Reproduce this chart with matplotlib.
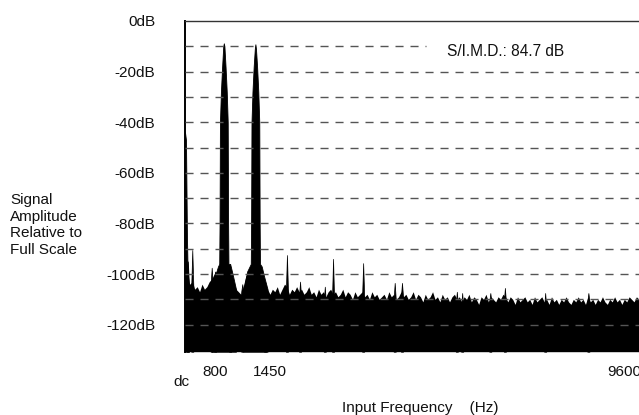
import numpy as np
import matplotlib
matplotlib.use("Agg")
import matplotlib.pyplot as plt
from matplotlib.transforms import blended_transform_factory

plt.rcParams['font.family'] = ['Liberation Sans', 'DejaVu Sans']

# ---------------- data ----------------
floor_freq = np.arange(0, 9601, 50)
floor_db = [
    -100, -103, -104, -103, -106, -105, -107, -104, -106, -105,
    -103, -102, -100, -99, -98, -98, -98, -97, -97, -100,
    -103, -106, -107, -108, -105, -101, -99, -98, -98, -98,
    -98, -99, -102, -104, -106, -108, -106, -107, -105, -108,
    -106, -104, -105, -108, -106, -107, -105, -107, -106, -108,
    -107, -105, -108, -107, -109, -106, -108, -107, -109, -107,
    -106, -108, -107, -109, -108, -106, -109, -107, -108, -110,
    -107, -109, -108, -107, -109, -108, -110, -107, -109, -108,
    -110, -109, -108, -110, -107, -109, -108, -110, -109, -107,
    -109, -108, -110, -109, -107, -110, -108, -109, -111, -108,
    -110, -109, -107, -110, -109, -111, -108, -110, -109, -111,
    -109, -108, -110, -109, -111, -109, -110, -108, -111, -109,
    -110, -112, -109, -110, -108, -111, -109, -110, -111, -109,
    -110, -108, -109, -111, -109, -110, -112, -109, -111, -110,
    -109, -111, -110, -112, -109, -111, -110, -109, -111, -110,
    -112, -109, -111, -110, -112, -110, -111, -109, -111, -112,
    -110, -111, -109, -111, -110, -112, -109, -111, -110, -112,
    -110, -111, -109, -111, -112, -110, -111, -109, -111, -110,
    -112, -110, -111, -109, -110, -111, -109, -110, -111, -110,
    -111, -109, -110,
]

# main tones (Hz) and their shape (offset from tone, level)
tone_freq = [800, 1450]
tone_offsets = [-250, -170, -120, -95, -88, -80, -60, -35, -12, 0, 12, 35, 60, 80, 88, 95, 130, 180, 250]
tone1_db = [-106, -100, -97, -96, -80, -40, -28, -18, -10, -8.8, -10, -18, -28, -40, -80, -96, -96, -100, -106]
tone2_db = [-107, -99, -97, -96, -80, -40, -28, -18, -11, -9.2, -11, -18, -28, -40, -80, -96, -97, -101, -106]

# dc component
dc_freq = [0, 20, 40, 55, 80]
dc_db = [-44, -47, -85, -100, -104]

# spurious components (Hz, dB)
spur_freq = [60, 150, 550, 620, 930, 1180, 1650, 2100, 2370, 2880, 3050, 3670,
             4320, 4470, 5600, 5710, 6290, 6590, 7420, 8310]
spur_db = [-95, -90.5, -97.5, -99, -97.5, -104, -103, -92.5, -103, -105, -94, -95.7,
           -103.5, -103.5, -107, -107.5, -107.5, -105.5, -107.5, -107.5]

ytick_vals = [0, -20, -40, -60, -80, -100, -120]
ytick_labels = ['0dB', '-20dB', '-40dB', '-60dB', '-80dB', '-100dB', '-120dB']
grid_vals = [-10, -20, -30, -40, -50, -60, -70, -80, -90, -100, -110, -120]
xtick_vals = [0, 800, 1450, 9600]
xtick_labels = ['dc', '800', '1450', '9600']
simd_text = 'S/I.M.D.: 84.7 dB'

# ---------------- plot ----------------
W, H = 639, 415
fig = plt.figure(figsize=(W / 100, H / 100), dpi=100)
ax_left, ax_right, ax_top, ax_bot = 185, 651, 21, 351.7
ax = fig.add_axes([ax_left / W, (H - ax_bot) / H, (ax_right - ax_left) / W, (ax_bot - ax_top) / H])
ymin = -130.7
ax.set_xlim(0, 9600)
ax.set_ylim(ymin, 0)

ax.fill_between(floor_freq, floor_db, ymin, color='black', lw=0, zorder=2)
for f0, lv in zip(tone_freq, [tone1_db, tone2_db]):
    xs = [f0 + o for o in tone_offsets]
    ax.fill_between(xs, lv, ymin, color='black', lw=0.6, edgecolor='black', zorder=2)
ax.fill_between(dc_freq, dc_db, ymin, color='black', lw=0.6, edgecolor='black', zorder=2)
fl = dict(zip(floor_freq.tolist(), floor_db))
for f0, lv in zip(spur_freq, spur_db):
    base = fl[int(round(f0 / 50.0) * 50)]
    ax.fill_between([f0 - 22, f0, f0 + 22], [base - 2, lv, base - 2], ymin,
                    color='black', lw=0.5, edgecolor='black', zorder=2)

for g in grid_vals:
    xmax = 0.517 if g == -10 else 1.0
    ax.axhline(g, xmin=0, xmax=xmax, color='#555555', lw=1.0, dashes=(5.8, 5.0), zorder=3)

ax.text(5400, -12.0, simd_text, fontsize=11.2, color='#111111', va='center', ha='left', zorder=4)

for s in ['right', 'bottom']:
    ax.spines[s].set_visible(False)
ax.spines['left'].set_color('black')
ax.spines['left'].set_linewidth(1.4)
ax.spines['top'].set_color('#333333')
ax.spines['top'].set_linewidth(1.0)

ax.set_yticks(ytick_vals)
ax.set_yticklabels(ytick_labels)
ax.tick_params(axis='y', length=0, pad=21.5, labelsize=11, labelcolor='#111111')
ax.set_xticks([])

trans = blended_transform_factory(ax.transData, ax.transAxes)
x_off_px = [-4, -9, 14, -27]
y_off_px = [-30, -20, -20, -20]
for v, lab, dx, dy in zip(xtick_vals, xtick_labels, x_off_px, y_off_px):
    ax.annotate(lab, xy=(v, 0), xycoords=trans, xytext=(dx * 0.72, dy * 0.72),
                textcoords='offset points', ha='center', va='center',
                fontsize=11, color='#111111', annotation_clip=False)

fig.text(420 / W, (H - 407.7) / H, 'Input Frequency    (Hz)', ha='center', va='center',
         fontsize=11, color='#111111')
fig.text(10 / W, (H - 225) / H, 'Signal\nAmplitude\nRelative to\nFull Scale', ha='left',
         va='center', fontsize=11, color='#111111', linespacing=1.25, multialignment='left')

fig.savefig('out.png', dpi=100)
